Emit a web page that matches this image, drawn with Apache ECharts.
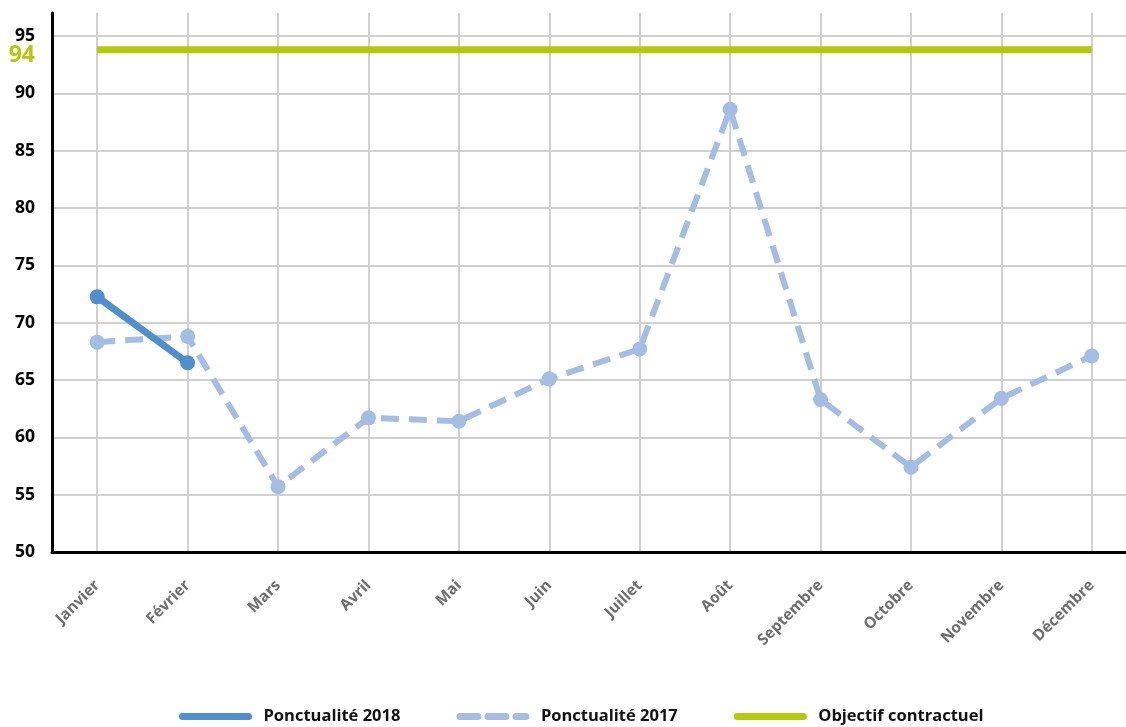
<!DOCTYPE html>
<html>
<head>
<meta charset="utf-8">
<script src="https://cdn.jsdelivr.net/npm/echarts@6/dist/echarts.min.js"></script>
<style>
html,body{margin:0;padding:0;background:#fff;overflow:hidden;}
#chart{width:1137px;height:727px;}
</style>
</head>
<body>
<div id="chart"></div>
<script>
const months = ['Janvier','Février','Mars','Avril','Mai','Juin','Juillet','Août','Septembre','Octobre','Novembre','Décembre'];
const ponct2018 = [72.25, 66.5, null, null, null, null, null, null, null, null, null, null];
const ponct2017 = [68.3, 68.8, 55.7, 61.7, 61.4, 65.1, 67.7, 88.6, 63.3, 57.4, 63.4, 67.1];
const objectif = [93.8, 93.8, 93.8, 93.8, 93.8, 93.8, 93.8, 93.8, 93.8, 93.8, 93.8, 93.8];
const yTicks = [50, 55, 60, 65, 70, 75, 80, 85, 90, 95];
const objectifLabel = '94';

const FONT = '"Open Sans", "Liberation Sans", sans-serif';
const chart = echarts.init(document.getElementById('chart'), null, {renderer: 'canvas'});
chart.setOption({
  animation: false,
  backgroundColor: '#ffffff',
  textStyle: {fontFamily: FONT},
  grid: {left: 52, right: 0, top: 13, bottom: 175, containLabel: false},
  legend: {
    left: 174,
    bottom: -3,
    itemWidth: 66,
    itemHeight: 10,
    itemGap: 56,
    icon: 'inherit',
    itemStyle: {color: 'rgba(0,0,0,0)', borderWidth: 0},
    lineStyle: {width: 7, cap: 'round'},
    textStyle: {fontFamily: FONT, fontWeight: 'bold', fontSize: 16.5, color: '#111', padding: [0, 0, 0, 10]},
    data: ['Ponctualité 2018', 'Ponctualité 2017', 'Objectif contractuel']
  },
  xAxis: {
    type: 'category',
    data: months,
    boundaryGap: true,
    axisLine: {show: true, lineStyle: {color: '#000', width: 3}},
    axisTick: {show: false},
    splitLine: {show: true, alignWithLabel: true, lineStyle: {color: '#d0d0d0', width: 2}},
    axisLabel: {interval: 0, rotate: 45, margin: 31, color: '#6e6e6e', fontWeight: 'bold', fontSize: 15.5, fontFamily: FONT}
  },
  yAxis: [{
    type: 'value',
    min: 50,
    max: 97,
    interval: 5,
    position: 'left',
    axisLine: {show: true, lineStyle: {color: '#000', width: 3}},
    axisTick: {show: false, customValues: yTicks},
    splitLine: {show: true, lineStyle: {color: '#d0d0d0', width: 2}},
    axisLabel: {customValues: yTicks, margin: 17, color: '#000', fontWeight: 'bold', fontSize: 17.5, fontFamily: FONT}
  }, {
    type: 'value',
    min: 50,
    max: 97,
    position: 'left',
    axisLine: {show: false},
    axisTick: {show: false, customValues: [93.3]},
    splitLine: {show: false},
    axisLabel: {customValues: [93.3], formatter: function(){ return objectifLabel; }, margin: 17, color: '#b4c80c', fontWeight: 'bold', fontSize: 23, fontFamily: FONT}
  }],
  series: [{
    name: 'Ponctualité 2018',
    type: 'line',
    data: ponct2018,
    z: 5,
    symbol: 'circle',
    symbolSize: 15,
    color: '#4f8fcc',
    itemStyle: {color: '#4f8fcc'},
    lineStyle: {color: '#4f8fcc', width: 7}
  }, {
    name: 'Ponctualité 2017',
    type: 'line',
    data: ponct2017,
    z: 4,
    symbol: 'circle',
    symbolSize: 15,
    color: '#a3bde3',
    itemStyle: {color: '#a3bde3'},
    lineStyle: {color: '#a3bde3', width: 6, type: [18, 10]}
  }, {
    name: 'Objectif contractuel',
    type: 'line',
    data: objectif,
    z: 3,
    symbol: 'none',
    color: '#b4c80c',
    lineStyle: {color: '#b4c80c', width: 7}
  }]
});
</script>
</body>
</html>
